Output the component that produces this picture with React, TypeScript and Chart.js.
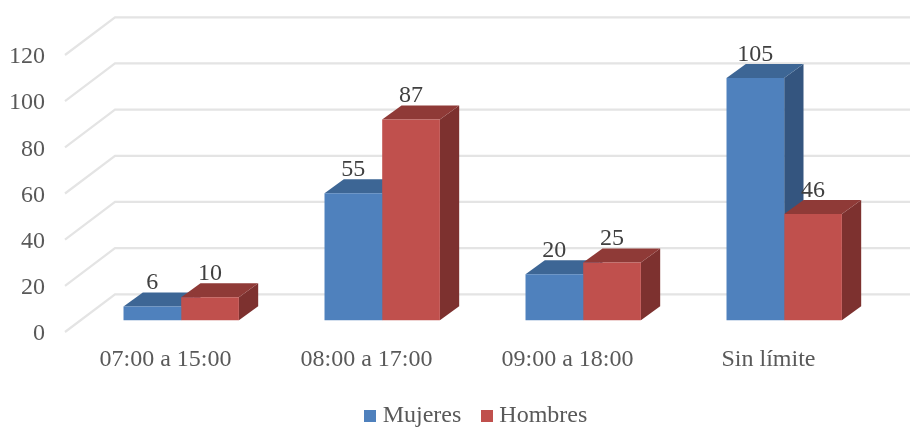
import React, { useEffect, useRef } from "react";
import { Chart, registerables } from "chart.js";

Chart.register(...registerables);

const categories = ["07:00 a 15:00", "08:00 a 17:00", "09:00 a 18:00", "Sin límite"];
const mujeres = [6, 55, 20, 105];
const hombres = [10, 87, 25, 46];
const seriesNames = ["Mujeres", "Hombres"];
const frontColors = ["#4F81BD", "#C0504D"];
const topColors = ["#3D6695", "#8F3A37"];
const sideColors = ["#34557F", "#7D312F"];

// Depth of the box walls and of the bars, as a screen offset.
const WALL = { dx: 50, dy: -37.7 };
const BAR_SHIFT = { dx: 15.7, dy: -11.7 };
const BAR_DEPTH = { dx: 19.3, dy: -14 };
const FONT = "'Liberation Serif', 'Times New Roman', serif";
const FONT_SIZE = 24;

function polygon(ctx: CanvasRenderingContext2D, pts: number[][], color: string) {
  ctx.beginPath();
  pts.forEach(([x, y], i) => (i ? ctx.lineTo(x, y) : ctx.moveTo(x, y)));
  ctx.closePath();
  ctx.fillStyle = color;
  ctx.fill();
}

function swatch(color: string) {
  const c = document.createElement("canvas");
  c.width = 12;
  c.height = 12;
  const g = c.getContext("2d")!;
  g.fillStyle = color;
  g.fillRect(0, 0, 12, 12);
  return c;
}

const box3d = {
  id: "box3d",
  beforeDatasetsDraw(chart: any) {
    const { ctx, chartArea: a } = chart;
    const y = chart.scales.y;
    ctx.save();

    // Floor edge, side wall and back wall rules.
    ctx.strokeStyle = "#E4E4E4";
    ctx.lineWidth = 2.2;
    y.ticks.forEach((t: any) => {
      const py = y.getPixelForValue(t.value);
      ctx.beginPath();
      ctx.moveTo(a.left, py);
      ctx.lineTo(a.left + WALL.dx, py + WALL.dy);
      ctx.lineTo(a.right + WALL.dx, py + WALL.dy);
      ctx.stroke();
    });

    // Side and top faces; the front faces are painted afterwards by the bar elements.
    ctx.translate(BAR_SHIFT.dx, BAR_SHIFT.dy);
    chart.data.datasets.forEach((_: any, di: number) => {
      chart.getDatasetMeta(di).data.forEach((bar: any) => {
        const { x, y: top, base, width } = bar.getProps(["x", "y", "base", "width"], true);
        const l = x - width / 2;
        const r = x + width / 2;
        const { dx, dy } = BAR_DEPTH;
        polygon(ctx, [[r, top], [r + dx, top + dy], [r + dx, base + dy], [r, base]], sideColors[di]);
        polygon(ctx, [[l, top], [l + dx, top + dy], [r + dx, top + dy], [r, top]], topColors[di]);
      });
    });
    ctx.restore();
  },
  beforeDatasetDraw(chart: any) {
    chart.ctx.save();
    chart.ctx.translate(BAR_SHIFT.dx, BAR_SHIFT.dy);
  },
  afterDatasetDraw(chart: any) {
    chart.ctx.restore();
  },
  afterDatasetsDraw(chart: any) {
    const { ctx } = chart;
    ctx.save();
    ctx.font = `${FONT_SIZE}px ${FONT}`;
    ctx.fillStyle = "#404040";
    ctx.textAlign = "center";
    ctx.textBaseline = "middle";
    chart.data.datasets.forEach((ds: any, di: number) => {
      chart.getDatasetMeta(di).data.forEach((bar: any, i: number) => {
        const { x, y: top } = bar.getProps(["x", "y"], true);
        ctx.fillText(String(ds.data[i]), x + BAR_SHIFT.dx, top + BAR_SHIFT.dy - 23.5);
      });
    });
    ctx.restore();
  },
};

export default function App() {
  const ref = useRef<HTMLCanvasElement>(null);

  useEffect(() => {
    const chart = new Chart(ref.current!, {
      type: "bar",
      data: {
        labels: categories,
        datasets: [
          { label: seriesNames[0], data: mujeres, backgroundColor: frontColors[0] },
          { label: seriesNames[1], data: hombres, backgroundColor: frontColors[1] },
        ],
      },
      plugins: [box3d],
      options: {
        responsive: false,
        animation: false,
        // The negative side paddings slide the centred legend into place.
        layout: { padding: { top: 55, left: 0, right: -47, bottom: -11 } },
        datasets: { bar: { categoryPercentage: 0.574, barPercentage: 1, borderWidth: 0, clip: false } },
        scales: {
          x: {
            grid: { display: false, drawTicks: false },
            border: { display: false },
            afterFit: (s: any) => { s.height = 47; },
            ticks: {
              color: "#595959",
              font: { family: FONT, size: FONT_SIZE },
              padding: 13,
              maxRotation: 0,
              autoSkip: false,
            },
          },
          y: {
            min: 0,
            max: 120,
            grid: { display: false, drawTicks: false },
            border: { display: false },
            afterFit: (s: any) => { s.width = 65; },
            ticks: {
              stepSize: 20,
              color: "#595959",
              font: { family: FONT, size: FONT_SIZE },
              padding: 20,
              labelOffset: 2,
            },
          },
          // Empty axis that reserves the space taken by the box's depth on the right.
          depthGutter: {
            type: "linear",
            position: "right",
            grid: { display: false, drawTicks: false },
            border: { display: false },
            ticks: { display: false },
            afterFit: (s: any) => { s.width = 88; },
          },
        },
        plugins: {
          tooltip: { enabled: false },
          legend: {
            position: "bottom",
            labels: {
              color: "#595959",
              font: { family: FONT, size: FONT_SIZE },
              padding: 25,
              usePointStyle: true,
              pointStyleWidth: 1,
              boxHeight: 12,
              generateLabels: (c: any) =>
                c.data.datasets.map((ds: any, i: number) => ({
                  text: ds.label,
                  fillStyle: ds.backgroundColor,
                  strokeStyle: ds.backgroundColor,
                  lineWidth: 0,
                  fontColor: "#595959",
                  pointStyle: swatch(ds.backgroundColor),
                  datasetIndex: i,
                })),
            },
          },
        },
      },
    } as any);
    return () => chart.destroy();
  }, []);

  return (
    <canvas
      ref={ref}
      width={910}
      height={427}
      style={{ position: "absolute", left: 0, top: 0, width: 910, height: 427 }}
    />
  );
}
